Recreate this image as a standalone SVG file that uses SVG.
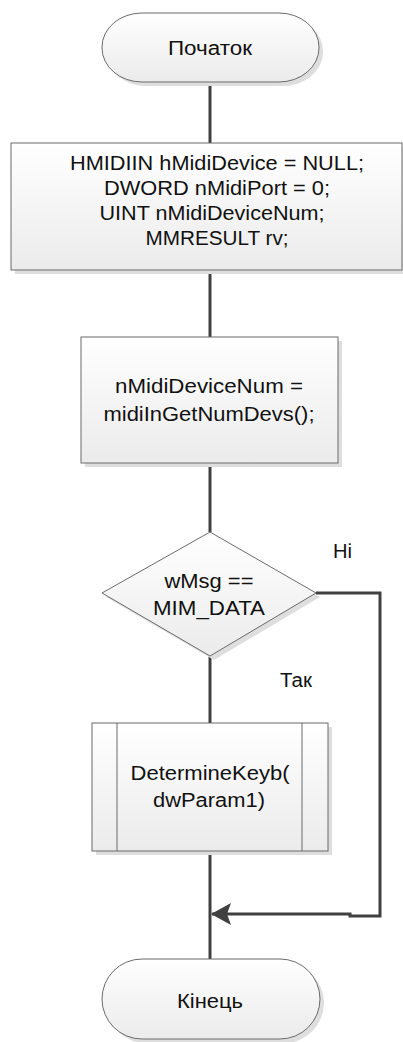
<svg xmlns="http://www.w3.org/2000/svg" width="403" height="1042" viewBox="0 0 403 1042">
<style>
.shape{fill:url(#g);stroke:#6b6b6b;stroke-width:1}
.shadow{fill:#dedede;stroke:none}
.t{font-family:"Liberation Sans",Arial,sans-serif;font-size:20px;fill:#111;text-anchor:middle}
.lbl{font-family:"Liberation Sans",Arial,sans-serif;font-size:20px;fill:#111}
.c{fill:none;stroke:#404040;stroke-width:3}
</style>
<defs>
<linearGradient id="g" x1="0" y1="0" x2="0" y2="1">
<stop offset="0" stop-color="#ffffff"/>
<stop offset="1" stop-color="#ebebeb"/>
</linearGradient>
<marker id="arr" markerUnits="userSpaceOnUse" viewBox="0 0 20 22" markerWidth="20" markerHeight="22" refX="19" refY="11" orient="auto">
<path d="M0,0 L20,11 L0,22 L4,11 z" fill="#404040"/>
</marker>
</defs>
<g id="connectors">
<line class="c" x1="210" y1="82" x2="210" y2="143"/>
<line class="c" x1="210" y1="270" x2="210" y2="337"/>
<line class="c" x1="210" y1="463" x2="210" y2="532"/>
<line class="c" x1="210" y1="656" x2="210" y2="723"/>
<line class="c" x1="210" y1="851" x2="210" y2="959"/>
<polyline class="c" points="316,593 380,593 380,916 350,916 350,914 212,914" marker-end="url(#arr)"/>
<text class="lbl" x="333" y="558" textLength="19" lengthAdjust="spacingAndGlyphs">Ні</text>
<text class="lbl" x="280" y="687" textLength="32" lengthAdjust="spacingAndGlyphs">Так</text>
</g>
<g id="start">
<rect class="shadow" x="106" y="17" width="217" height="69" rx="40" ry="34"/>
<rect class="shape" x="102" y="13" width="217" height="69" rx="40" ry="34"/>
<text class="t" x="210" y="55" textLength="84" lengthAdjust="spacingAndGlyphs">Початок</text>
</g>
<g id="init">
<rect class="shadow" x="15" y="147" width="391" height="127"/>
<rect class="shape" x="11" y="143" width="391" height="127"/>
<text class="t" x="217" y="170" textLength="294" lengthAdjust="spacingAndGlyphs">HMIDIIN hMidiDevice = NULL;</text>
<text class="t" x="217" y="195" textLength="226" lengthAdjust="spacingAndGlyphs">DWORD nMidiPort = 0;</text>
<text class="t" x="212" y="220" textLength="225" lengthAdjust="spacingAndGlyphs">UINT nMidiDeviceNum;</text>
<text class="t" x="217" y="245" textLength="143" lengthAdjust="spacingAndGlyphs">MMRESULT rv;</text>
</g>
<g id="getnum">
<rect class="shadow" x="85" y="341" width="257" height="126"/>
<rect class="shape" x="81" y="337" width="257" height="126"/>
<text class="t" x="209" y="393" textLength="188" lengthAdjust="spacingAndGlyphs">nMidiDeviceNum =</text>
<text class="t" x="209" y="421" textLength="211" lengthAdjust="spacingAndGlyphs">midiInGetNumDevs();</text>
</g>
<g id="decision">
<polygon class="shadow" points="214,536 320,597 214,660 106,597"/>
<polygon class="shape" points="210,532 316,593 210,656 102,593"/>
<text class="t" x="209" y="588" textLength="89" lengthAdjust="spacingAndGlyphs">wMsg ==</text>
<text class="t" x="209" y="615" textLength="112" lengthAdjust="spacingAndGlyphs">MIM_DATA</text>
</g>
<g id="determine">
<rect class="shadow" x="96" y="727" width="236" height="128"/>
<rect class="shape" x="92" y="723" width="236" height="128"/>
<line x1="117" y1="723" x2="117" y2="851" stroke="#6b6b6b" stroke-width="1"/>
<line x1="302" y1="723" x2="302" y2="851" stroke="#6b6b6b" stroke-width="1"/>
<text class="t" x="210" y="780" textLength="159" lengthAdjust="spacingAndGlyphs">DetermineKeyb(</text>
<text class="t" x="209" y="807" textLength="112" lengthAdjust="spacingAndGlyphs">dwParam1)</text>
</g>
<g id="end">
<rect class="shadow" x="106" y="963" width="218" height="80" rx="40" ry="40"/>
<rect class="shape" x="102" y="959" width="218" height="80" rx="40" ry="40"/>
<text class="t" x="210" y="1008" textLength="66" lengthAdjust="spacingAndGlyphs">Кінець</text>
</g>
</svg>
